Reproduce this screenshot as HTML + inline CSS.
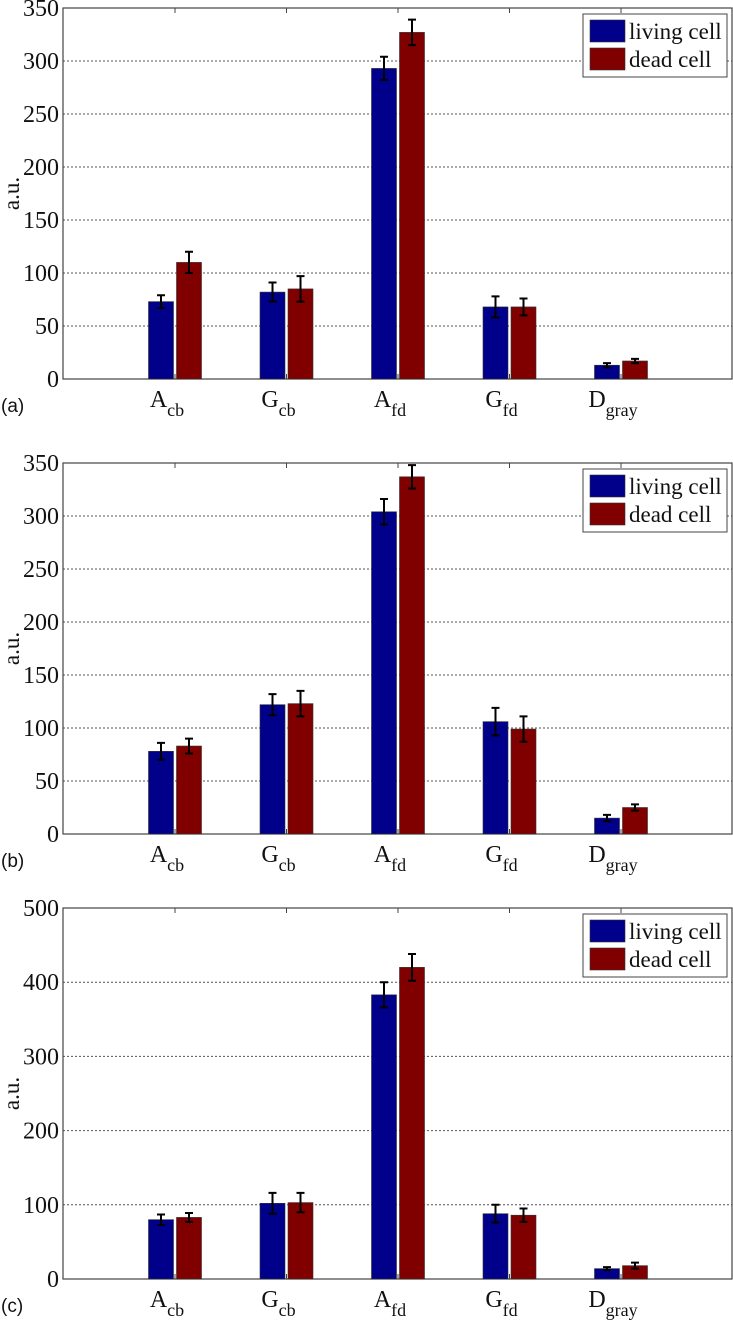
<!DOCTYPE html>
<html><head><meta charset="utf-8"><style>
html,body{margin:0;padding:0;background:#fff;}
svg{display:block;}
</style></head><body>
<svg id="chart" width="733" height="1322" xmlns="http://www.w3.org/2000/svg" font-family="'Liberation Serif', serif"></svg>
<script>
const categories = ["A|cb","G|cb","A|fd","G|fd","D|gray"];
const panelLabels = ["(a)","(b)","(c)"];
const yMaxes = [350,350,500];
const yStepsArr = [50,50,100];
const livingA = [73,82,293,68,13];
const livingErrA = [6,9,11,10,2];
const deadA = [110,85,327,68,17];
const deadErrA = [10,12,12,8,2];
const livingB = [78,122,304,106,15];
const livingErrB = [8,10,12,13,3];
const deadB = [83,123,337,99,25];
const deadErrB = [7,12,11,12,3];
const livingC = [80,102,383,88,14];
const livingErrC = [7,14,17,12,2];
const deadC = [83,103,420,86,18];
const deadErrC = [6,13,18,9,4];
const seriesNames = ["living cell","dead cell"];

const panels = [
  {top:8,bottom:379,living:livingA,le:livingErrA,dead:deadA,de:deadErrA},
  {top:463,bottom:834,living:livingB,le:livingErrB,dead:deadB,de:deadErrB},
  {top:908,bottom:1279,living:livingC,le:livingErrC,dead:deadC,de:deadErrC}
];
const NS="http://www.w3.org/2000/svg";
const svg=document.getElementById('chart');
function mk(tag,attrs,parent){const e=document.createElementNS(NS,tag);for(const k in attrs)e.setAttribute(k,attrs[k]);(parent||svg).appendChild(e);return e;}
const L=63,R=732,c0=175,step=111.5,bw=25,off=14;
const colors=["#00008b","#800000"];
panels.forEach((p,pi)=>{
  const g=mk('g',{});
  
  
  const yMax=yMaxes[pi],ys=yStepsArr[pi];
  const y=v=>p.bottom-(v/yMax)*(p.bottom-p.top);
  const x=i=>c0+i*step;
  for(let v=0;v<=yMax;v+=ys){
    if(v>0&&v<yMax){const gl=mk('line',{x1:L,x2:R,y1:y(v),y2:y(v),stroke:'#555','stroke-width':1,'stroke-dasharray':'2,2'},g);
      
      }
    const t=mk('text',{x:59,y:y(v)+8,'text-anchor':'end','font-size':24,fill:'#111'},g);
    
    
    t.textContent=v;
  }
  const ax=mk('rect',{x:L,y:p.top,width:R-L,height:p.bottom-p.top,fill:'none',stroke:'#444','stroke-width':1.2},g);
  
  
  const yt=mk('text',{x:0,y:0,'font-size':23,fill:'#111','text-anchor':'middle',transform:`translate(19,${(p.top+p.bottom)/2}) rotate(-90)`},g);
  
  
  yt.textContent='a.u.';
  const pl=mk('text',{x:1,y:p.bottom+33,'font-size':19,fill:'#111','font-family':"'Liberation Sans', sans-serif"},g);
  
  
  pl.textContent=panelLabels[pi];
  categories.forEach((c,i)=>{
    const [m,s]=c.split('|');
    mk('line',{x1:x(i),x2:x(i),y1:p.bottom,y2:p.bottom-5,stroke:'#444'},g);
    mk('line',{x1:x(i),x2:x(i),y1:p.top,y2:p.top+5,stroke:'#444'},g);
    const t=mk('text',{x:x(i)-8,y:p.bottom+28,'font-size':24,fill:'#111','text-anchor':'middle'},g);
    
    
    const ts=mk('tspan',{},t);ts.textContent=m;
    const ts2=mk('tspan',{dy:9,'font-size':18},t);ts2.textContent=s;
    [[p.living,p.le],[p.dead,p.de]].forEach((sd,si)=>{
      const v=sd[0][i],e=sd[1][i];
      const cx=x(i)+(si?off:-off);
      const b=mk('rect',{x:cx-bw/2,y:y(v),width:bw,height:p.bottom-y(v),fill:colors[si],stroke:'#333','stroke-width':0.6},g);
      
      
      const eb=mk('path',{d:`M${cx},${y(v+e)}V${y(v-e)}M${cx-4},${y(v+e)}H${cx+4}M${cx-4},${y(v-e)}H${cx+4}`,stroke:'#000','stroke-width':2,fill:'none'},g);
      
      
    });
  });
  const lg=mk('g',{},g);
  
  
  const ly=p.top+6;
  mk('rect',{x:583,y:ly,width:144,height:63,fill:'#fff',stroke:'#444','stroke-width':1},lg);
  seriesNames.forEach((n,si)=>{
    const e=mk('g',{},lg);
    
    
    mk('rect',{x:590,y:ly+6+si*28,width:35,height:22,fill:colors[si],stroke:'#333','stroke-width':0.6},e);
    const t=mk('text',{x:629,y:ly+25+si*28,'font-size':23,fill:'#111'},e);
    t.textContent=n;
  });
});
</script>
</body></html>
